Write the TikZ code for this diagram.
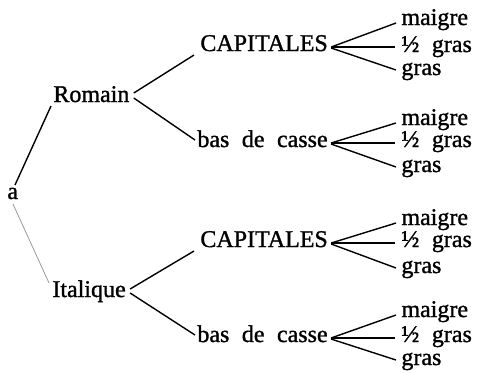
\documentclass[tikz,border=0pt]{standalone}
\usepackage{fontspec}
\usepackage{tikz}
\newfontfamily\livre[FakeBold=1.2]{Liberation Serif}
\newcommand\motfont{\livre\fontsize{12}{14}\selectfont\spaceskip=0.52em\relax}

\begin{document}
\begin{tikzpicture}[x=0.5pt,y=-0.5pt,
	mot/.style={inner xsep=0pt, inner ysep=1pt, anchor=base west, font=\motfont},
	trait/.style={line width=0.7pt},
	pale/.style={line width=0.4pt, draw=black!40}]
	\useasboundingbox (0,0) rectangle (480,372);
	\node[mot] at (7,199)(a){a};
	\node[mot] at (53,102)(romain){Romain};
	\node[mot] at (52,297)(italique){Italique};
	\node[mot] at (200,51)(cap1){CAPITALES};
	\node[mot] at (197,147)(bas1){bas de casse};
	\node[mot] at (200,247)(cap2){CAPITALES};
	\node[mot] at (197,342)(bas2){bas de casse};
	% graisses
	\node[mot] at (401,25)(maigre1){maigre};
	\node[mot] at (401,52)(demi1){½ gras};
	\node[mot] at (401,75)(gras1){gras};
	\node[mot] at (401,125)(maigre2){maigre};
	\node[mot] at (401,147)(demi2){½ gras};
	\node[mot] at (401,172)(gras2){gras};
	\node[mot] at (401,225)(maigre3){maigre};
	\node[mot] at (401,247)(demi3){½ gras};
	\node[mot] at (401,273)(gras3){gras};
	\node[mot] at (401,317)(maigre4){maigre};
	\node[mot] at (401,342)(demi4){½ gras};
	\node[mot] at (401,365)(gras4){gras};
	% accolades
	\draw[trait]([shift={(8,-14)}]a.base west) -- ([shift={(-2,4)}]romain.base west);
	\draw[pale]([shift={(6,5)}]a.base west) -- ([shift={(-3,-14)}]italique.base west);
	\draw[trait]([shift={(4,-9)}]romain.base east) -- ([shift={(-6,4)}]cap1.base west);
	\draw[trait]([shift={(4,-4)}]romain.base east) -- ([shift={(-2,-7)}]bas1.base west);
	\draw[trait]([shift={(4,-8)}]italique.base east) -- ([shift={(-6,4)}]cap2.base west);
	\draw[trait]([shift={(4,-4)}]italique.base east) -- ([shift={(-2,-7)}]bas2.base west);
	\draw[trait]([shift={(3,-4)}]cap1.base east) -- ([shift={(-5,-2)}]maigre1.base west);
	\draw[trait]([shift={(3,-4)}]cap1.base east) -- ([shift={(-6,-5)}]demi1.base west);
	\draw[trait]([shift={(3,-3)}]cap1.base east) -- ([shift={(-5,-5)}]gras1.base west);
	\draw[trait]([shift={(3,-4)}]bas1.base east) -- ([shift={(-5,-2)}]maigre2.base west);
	\draw[trait]([shift={(3,-4)}]bas1.base east) -- ([shift={(-6,-4)}]demi2.base west);
	\draw[trait]([shift={(3,-3)}]bas1.base east) -- ([shift={(-5,-5)}]gras2.base west);
	\draw[trait]([shift={(3,-4)}]cap2.base east) -- ([shift={(-5,-2)}]maigre3.base west);
	\draw[trait]([shift={(3,-4)}]cap2.base east) -- ([shift={(-6,-4)}]demi3.base west);
	\draw[trait]([shift={(3,-3)}]cap2.base east) -- ([shift={(-5,-5)}]gras3.base west);
	\draw[trait]([shift={(3,-4)}]bas2.base east) -- ([shift={(-5,-2)}]maigre4.base west);
	\draw[trait]([shift={(3,-4)}]bas2.base east) -- ([shift={(-6,-4)}]demi4.base west);
	\draw[trait]([shift={(3,-3)}]bas2.base east) -- ([shift={(-5,-5)}]gras4.base west);
\end{tikzpicture}
\end{document}
